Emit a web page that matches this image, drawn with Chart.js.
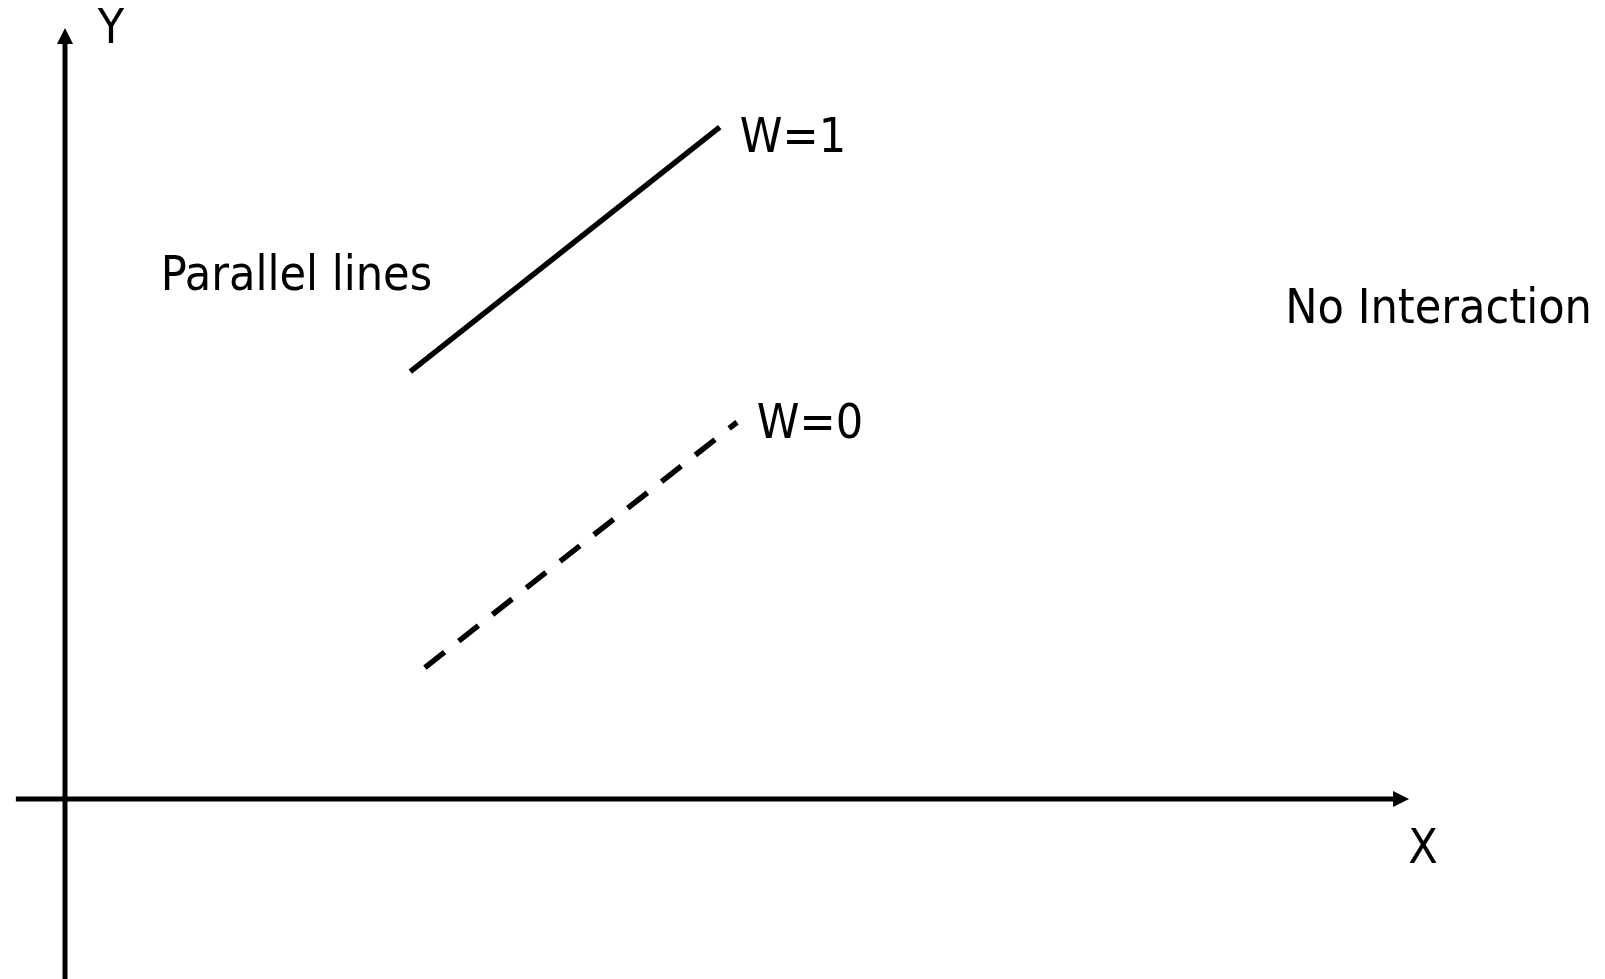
<!DOCTYPE html>
<html>
<head>
<meta charset="utf-8">
<title>No Interaction</title>
<script src="https://cdn.jsdelivr.net/npm/chart.js@4.4.1/dist/chart.umd.min.js"></script>
<style>
    html, body { margin: 0; padding: 0; background: #ffffff; }
    #chart-wrap { width: 1605px; height: 979px; }
</style>
</head>
<body>
<div id="chart-wrap"><canvas id="diagram" width="1605" height="979"></canvas></div>
<script>
// Line W=1 (solid) and W=0 (dashed), in axis units (origin at the crossing)
const solidX = [2.6, 4.93];
const solidY = [5.66, 8.9];
const dashedX = [2.71, 5.06];
const dashedY = [1.74, 4.99];

// Axis lines; the arrow heads are drawn beyond the last point
const xAxisX = [-0.37, 10];
const xAxisY = [0, 0];
const yAxisX = [0, 0];
const yAxisY = [-2.4, 10];

// Texts of the diagram
const labelTexts = ['Y', 'X', 'W=1', 'W=0', 'Parallel lines', 'No Interaction'];
const labelAnchors = [
    [0.346, 10.013],
    [10.226, -0.848],
    [5.482, 8.57],
    [5.61, 4.781],
    [1.743, 6.742],
    [10.343, 6.305]
];

const FONT_FAMILY = '"DejaVu Sans Condensed", "DejaVu Sans", Verdana, sans-serif';

function toPoints(xs, ys) {
    return xs.map((x, i) => ({ x: x, y: ys[i] }));
}

function lineDataset(xs, ys, extra) {
    return Object.assign({
        data: toPoints(xs, ys),
        borderColor: '#000000',
        borderWidth: 5,
        pointRadius: 0,
        pointHoverRadius: 0,
        fill: false,
        tension: 0,
        clip: false
    }, extra || {});
}

// Draws a filled triangle at the end of every dataset marked with "arrow"
const arrowHeads = {
    id: 'arrowHeads',
    afterDatasetsDraw(chart) {
        const ctx = chart.ctx;
        chart.data.datasets.forEach((dataset, idx) => {
            if (!dataset.arrow) {
                return;
            }
            const pts = chart.getDatasetMeta(idx).data;
            const end = pts[pts.length - 1];
            const prev = pts[pts.length - 2];
            const angle = Math.atan2(end.y - prev.y, end.x - prev.x);
            const len = 16;
            const half = 8;

            ctx.save();
            ctx.translate(end.x, end.y);
            ctx.rotate(angle);
            ctx.beginPath();
            ctx.moveTo(len, 0);
            ctx.lineTo(0, -half);
            ctx.lineTo(0, half);
            ctx.closePath();
            ctx.fillStyle = '#000000';
            ctx.fill();
            ctx.restore();
        });
    }
};

// Writes the labels at their anchors, through the chart scales
const diagramLabels = {
    id: 'diagramLabels',
    afterDraw(chart) {
        const ctx = chart.ctx;
        const xScale = chart.scales.x;
        const yScale = chart.scales.y;

        ctx.save();
        ctx.fillStyle = '#000000';
        ctx.font = `48px ${FONT_FAMILY}`;
        ctx.textAlign = 'center';
        ctx.textBaseline = 'alphabetic';
        labelTexts.forEach((text, i) => {
            const px = xScale.getPixelForValue(labelAnchors[i][0]);
            const py = yScale.getPixelForValue(labelAnchors[i][1]);
            ctx.fillText(text, px, py);
        });
        ctx.restore();
    }
};

const config = {
    type: 'line',
    data: {
        datasets: [
            lineDataset(xAxisX, xAxisY, { label: 'X axis', arrow: true }),
            lineDataset(yAxisX, yAxisY, { label: 'Y axis', arrow: true }),
            lineDataset(solidX, solidY, { label: 'W=1', borderWidth: 5.5 }),
            lineDataset(dashedX, dashedY, { label: 'W=0', borderWidth: 5.5, borderDash: [25, 18] })
        ]
    },
    options: {
        responsive: false,
        animation: false,
        events: [],
        layout: { padding: 0 },
        scales: {
            x: { type: 'linear', display: false, min: -0.4895, max: 11.596 },
            y: { type: 'linear', display: false, min: -2.384, max: 10.583 }
        },
        plugins: {
            legend: { display: false },
            tooltip: { enabled: false }
        }
    },
    plugins: [arrowHeads, diagramLabels]
};

new Chart(document.getElementById('diagram'), config);
</script>
</body>
</html>
